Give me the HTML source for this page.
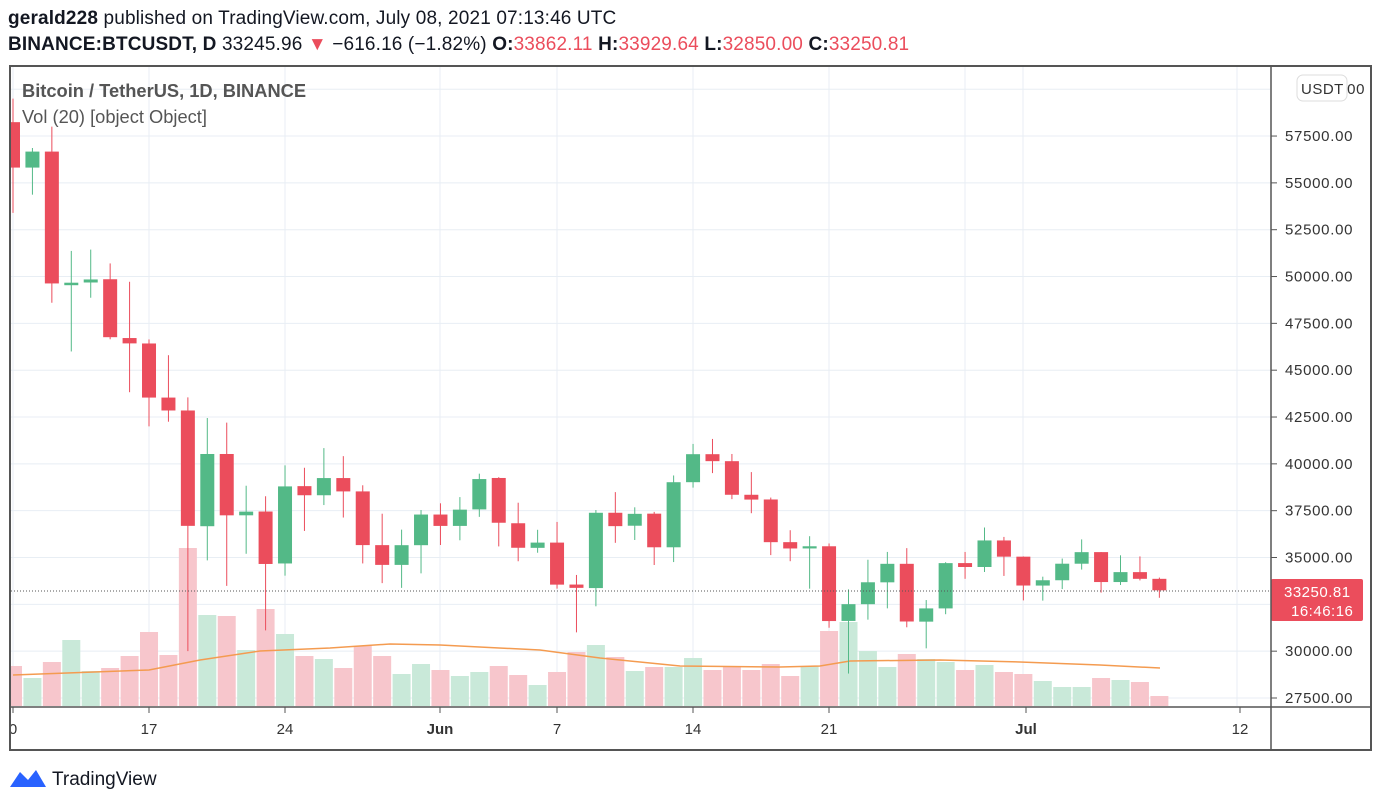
<!DOCTYPE html><html><head><meta charset="utf-8"><style>
body{margin:0;width:1381px;height:806px;background:#fff;overflow:hidden;font-family:"Liberation Sans",sans-serif}
</style></head><body>
<svg id="s" width="1381" height="806" xmlns="http://www.w3.org/2000/svg" font-family="Liberation Sans, sans-serif"></svg>
<script>
const d=[[58241,59500,53400,55816],[55816,56862,54370,56670],[56670,58000,48600,49631],[49537,51367,46000,49671],[49682,51438,48868,49844],[49855,50700,46650,46762],[46716,49720,43825,46431],[46426,46643,42001,43538],[43538,45800,42250,42849],[42849,43546,30000,36690],[36671,42451,34850,40526],[40526,42200,33488,37252],[37253,38832,35200,37449],[37455,38270,31111,34655],[34682,39920,34031,38796],[38810,39791,36419,38324],[38324,40841,37800,39241],[39241,40411,37134,38529],[38529,38856,34684,35663],[35661,37338,33632,34606],[34606,36488,33379,35658],[35658,37534,34154,37294],[37294,37894,35667,36687],[36687,38225,35920,37555],[37568,39476,37170,39188],[39246,39289,35593,36856],[36829,37925,34800,35520],[35516,36480,35255,35796],[35796,36900,33337,33552],[33556,34069,31004,33380],[33368,37534,32396,37388],[37389,38491,35784,36675],[36697,37680,35936,37331],[37341,37436,34600,35546],[35546,39380,34757,39020],[39021,41064,38730,40516],[40516,41330,39506,40144],[40143,40527,38116,38349],[38349,39560,37365,38092],[38098,38200,35129,35819],[35820,36457,34803,35483],[35484,36138,33336,35600],[35600,35750,31251,31608],[31614,33298,28805,32509],[32509,34881,31683,33678],[33675,35298,32286,34663],[34663,35500,31275,31584],[31576,32730,30151,32283],[32283,34749,31973,34700],[34702,35297,33862,34494],[34494,36600,34225,35911],[35911,36100,34017,35045],[35045,35057,32711,33504],[33502,33977,32699,33786],[33786,34945,33316,34669],[34669,35967,34357,35286],[35288,35293,33125,33690],[33690,35118,33532,34220],[34220,35059,33777,33862],[33862,33929,32850,33250]];
const vt=[666,678,662,640,671,668,656,632,655,548,615,616,650,609,634,656,659,668,646,656,674,664,670,676,672,666,675,685,672,652,645,657,671,667,667,658,670,666,670,664,676,666,631,622,651,667,654,659,662,670,665,672,674,681,687,687,678,680,682,696];
const Y=p=>698-(p-27500)/2500*46.83, X=i=>13+i*19.43;
let h='<defs><clipPath id="c"><rect x="11" y="67" width="1259" height="639"/></clipPath></defs>';
for(let p=27500;p<=60000;p+=2500){const y=Y(p);h+=`<line x1="11" x2="1270" y1="${y}" y2="${y}" stroke="#e8eef4"/>`;}
[13,149,285,440,557,693,829,965,1023,1237].forEach(x=>h+=`<line x1="${x}" x2="${x}" y1="67" y2="706" stroke="#e8eef4"/>`);
h+='<g clip-path="url(#c)">';
d.forEach((c,i)=>{const up=c[3]>=c[0];h+=`<rect x="${X(i)-9}" y="${vt[i]}" width="18" height="${706-vt[i]}" fill="${up?'#c9e9d9':'#f7c6cc'}"/>`;});
h+='<polyline fill="none" stroke="#f49b50" stroke-width="1.5" points="13,675 149,670 200,660 260,651 330,648 390,644 440,645 540,650 600,658 680,666 780,667 820,666 850,661 940,660 1020,662 1100,665 1160,668"/>';
d.forEach((c,i)=>{const up=c[3]>=c[0],col=up?'#53b987':'#eb4d5c',x=X(i);const t=Y(Math.max(c[0],c[3])),b=Y(Math.min(c[0],c[3]));
h+=`<line x1="${x}" x2="${x}" y1="${Y(c[1])}" y2="${Y(c[2])}" stroke="${col}"/><rect x="${x-7}" y="${t}" width="14" height="${Math.max(1.5,b-t)}" fill="${col}"/>`;});
h+='</g>';
h+=`<line x1="11" x2="1270" y1="591" y2="591" stroke="#555" stroke-dasharray="1,2"/>`;
for(let p=27500;p<=57500;p+=2500){const y=Y(p);h+=`<line x1="1271" x2="1277" y1="${y}" y2="${y}" stroke="#555"/><text x="1285" y="${y+5}" font-size="15" letter-spacing="0.7" fill="#333">${p}.00</text>`;}
h+=`<text x="1297" y="94" font-size="15" letter-spacing="0.7" fill="#333">60000.00</text><rect x="1297" y="75" width="50" height="26" rx="6" fill="#fff" stroke="#ddd"/><text x="1301" y="94" font-size="15" letter-spacing="0.5" fill="#333">USDT</text>`;
h+=`<rect x="1271" y="579" width="92" height="42" rx="2" fill="#eb4d5c"/><text x="1284" y="597" font-size="15" letter-spacing="0.5" fill="#fff">33250.81</text><text x="1291" y="616" font-size="15" letter-spacing="0.5" fill="#fff">16:46:16</text>`;
[[13,'0'],[149,'17'],[285,'24'],[440,'Jun'],[557,'7'],[693,'14'],[829,'21'],[1026,'Jul'],[1240,'12']].forEach(([x,t])=>{h+=`<line x1="${x}" x2="${x}" y1="707" y2="713" stroke="#555"/><text x="${x}" y="734" font-size="15" fill="#333" text-anchor="middle" ${t.length>2?'font-weight="bold"':''}>${t}</text>`;});
h+=`<rect x="10" y="66" width="1361" height="684" fill="none" stroke="#555" stroke-width="2"/><line x1="1271" x2="1271" y1="66" y2="750" stroke="#555" stroke-width="1.5"/><line x1="10" x2="1371" y1="707" y2="707" stroke="#555" stroke-width="1.5"/>`;
h+=`<text x="22" y="97" font-size="18.3" font-weight="bold" fill="#555">Bitcoin / TetherUS, 1D, BINANCE</text><text x="22" y="123" font-size="18.3" fill="#555">Vol (20) [object Object]</text>`;
h+=`<text x="8" y="24" font-size="19" letter-spacing="0.15" fill="#131722"><tspan font-weight="bold">gerald228</tspan> published on TradingView.com, July 08, 2021 07:13:46 UTC</text>`;
h+=`<text x="8" y="50" font-size="19" letter-spacing="0.15" fill="#131722"><tspan font-weight="bold">BINANCE:BTCUSDT, D</tspan>  33245.96 <tspan fill="#eb4d5c">▼</tspan> −616.16 (−1.82%) <tspan font-weight="bold">O:</tspan><tspan fill="#eb4d5c">33862.11</tspan> <tspan font-weight="bold">H:</tspan><tspan fill="#eb4d5c">33929.64</tspan> <tspan font-weight="bold">L:</tspan><tspan fill="#eb4d5c">32850.00</tspan> <tspan font-weight="bold">C:</tspan><tspan fill="#eb4d5c">33250.81</tspan></text>`;
h+=`<path d="M10 787 L20 772 L28 780 L36 770 L46 787 Z" fill="#2962ff"/><text x="52" y="785" font-size="19" fill="#131722">TradingView</text>`;
document.getElementById('s').innerHTML=h;
</script></body></html>
